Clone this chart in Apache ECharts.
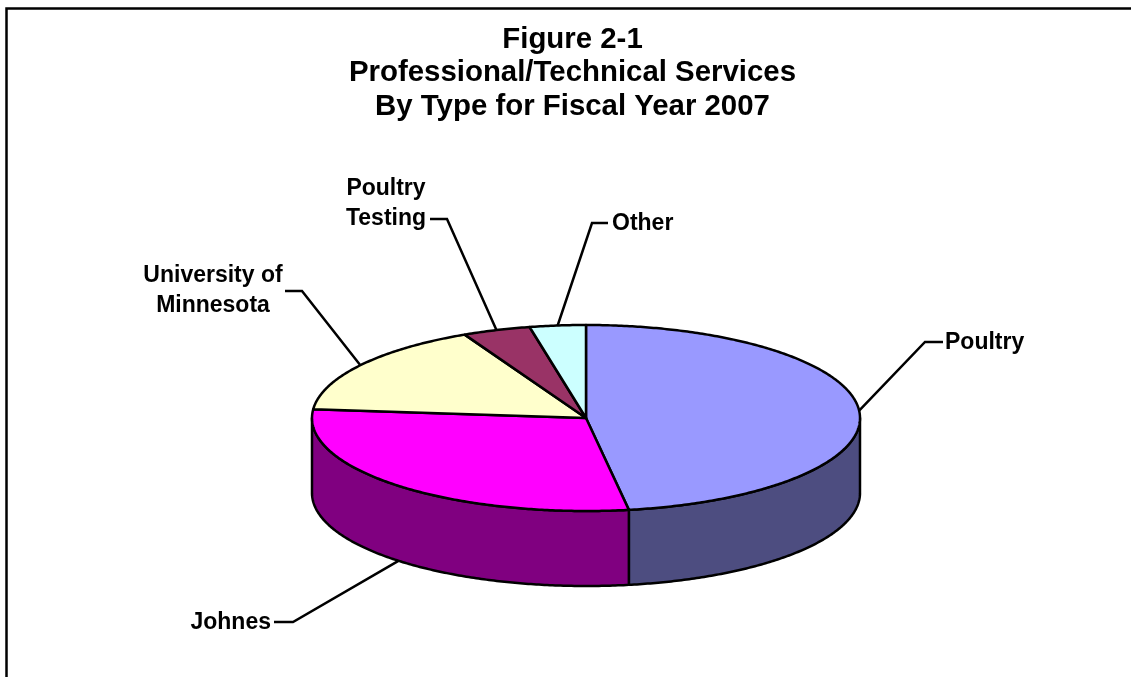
<!DOCTYPE html>
<html>
<head>
<meta charset="utf-8">
<style>
  html, body { margin: 0; padding: 0; background: #fff; }
  #chart { width: 1131px; height: 677px; }
</style>
<script src="https://cdn.jsdelivr.net/npm/echarts@6/dist/echarts.min.js"></script>
</head>
<body>
<div id="chart"></div>
<script>
// Share of professional/technical services spending by type, percent
const categories = ['Poultry', 'Johnes', 'University of\nMinnesota', 'Poultry\nTesting', 'Other'];
const shares = [47.5, 29.0, 16.2, 4.0, 3.3];
const topColors = ['#9999FF', '#FF00FF', '#FFFFCC', '#993366', '#CCFFFF'];
const sideColors = ['#4D4D80', '#800080', '#808066', '#4D1A33', '#668080'];
const titleLines = ['Figure 2-1', 'Professional/Technical Services', 'By Type for Fiscal Year 2007'];

// Elliptical disc geometry
const disc = { cx: 586, cy: 418, rx: 274, ry: 93, depth: 75 };

// Leader line elbows and label placement for each category
const leaders = [
  { elbow: [[925, 342], [943, 342]], text: [945, 343], align: 'left' },
  { elbow: [[293, 622], [274, 622]], text: [271, 623], align: 'right' },
  { elbow: [[302, 291], [285, 291]], text: [213, 291], align: 'center' },
  { elbow: [[447, 219], [430, 219]], text: [386, 204], align: 'center' },
  { elbow: [[592, 223], [608, 223]], text: [612, 224], align: 'left' }
];

const total = shares.reduce((a, b) => a + b, 0);
const startFractions = shares.map((_, i) =>
  shares.slice(0, i).reduce((a, b) => a + b, 0) / total);

// Angle is measured clockwise from the top of the disc
function rimPoint(angle, drop) {
  return [
    disc.cx + disc.rx * Math.sin(angle),
    disc.cy - disc.ry * Math.cos(angle) + (drop || 0)
  ];
}

function arcPoints(from, to, drop) {
  const steps = Math.max(2, Math.ceil(Math.abs(to - from) / 0.01));
  const points = [];
  for (let k = 0; k <= steps; k++) {
    points.push(rimPoint(from + (to - from) * k / steps, drop));
  }
  return points;
}

function renderSlice(params, api) {
  const i = params.dataIndex;
  const from = startFractions[i] * Math.PI * 2;
  const to = from + api.value(0) / total * Math.PI * 2;
  const mid = (from + to) / 2;
  const children = [];
  const edge = { stroke: '#000', lineWidth: 2.5, lineJoin: 'round' };

  // Visible wall: only the part of the slice on the front half of the rim
  const wallFrom = Math.max(from, Math.PI / 2);
  const wallTo = Math.min(to, Math.PI * 1.5);
  if (wallTo > wallFrom) {
    const wall = arcPoints(wallFrom, wallTo, 0)
      .concat(arcPoints(wallTo, wallFrom, disc.depth));
    children.push({
      type: 'polygon',
      shape: { points: wall },
      style: Object.assign({ fill: sideColors[i] }, edge)
    });
  }

  // Top face wedge
  const wedge = [[disc.cx, disc.cy]].concat(arcPoints(from, to, 0));
  children.push({
    type: 'polygon',
    shape: { points: wedge },
    style: Object.assign({ fill: topColors[i] }, edge)
  });

  // Leader line leaves the rim at the slice's middle angle
  const front = mid > Math.PI / 2 && mid < Math.PI * 1.5;
  const leader = leaders[i];
  children.push({
    type: 'polyline',
    shape: { points: [rimPoint(mid, front ? disc.depth : 0)].concat(leader.elbow) },
    style: { stroke: '#000', lineWidth: 2.5, fill: null }
  });
  children.push({
    type: 'text',
    style: {
      text: categories[i],
      x: leader.text[0],
      y: leader.text[1],
      align: leader.align,
      verticalAlign: 'middle',
      fill: '#000',
      font: 'bold 23px "Liberation Sans", Arial, sans-serif',
      lineHeight: 30
    }
  });
  return { type: 'group', children: children };
}

const chart = echarts.init(document.getElementById('chart'), null, { renderer: 'canvas' });
chart.setOption({
  animation: false,
  backgroundColor: '#fff',
  title: {
    text: titleLines.join('\n'),
    left: 572.5,
    top: 23,
    padding: 0,
    textAlign: 'center',
    textStyle: {
      color: '#000',
      fontFamily: '"Liberation Sans", Arial, sans-serif',
      fontWeight: 'bold',
      fontSize: 29.4,
      lineHeight: 33.4
    }
  },
  graphic: [{
    type: 'polyline',
    silent: true,
    shape: { points: [[6.5, 677], [6.5, 8.5], [1131, 8.5]] },
    style: { stroke: '#000', lineWidth: 2.5, fill: null }
  }],
  series: [{
    type: 'custom',
    coordinateSystem: 'none',
    silent: true,
    renderItem: renderSlice,
    data: shares.map((v, i) => ({ name: categories[i], value: [v] }))
  }]
});
</script>
</body>
</html>
